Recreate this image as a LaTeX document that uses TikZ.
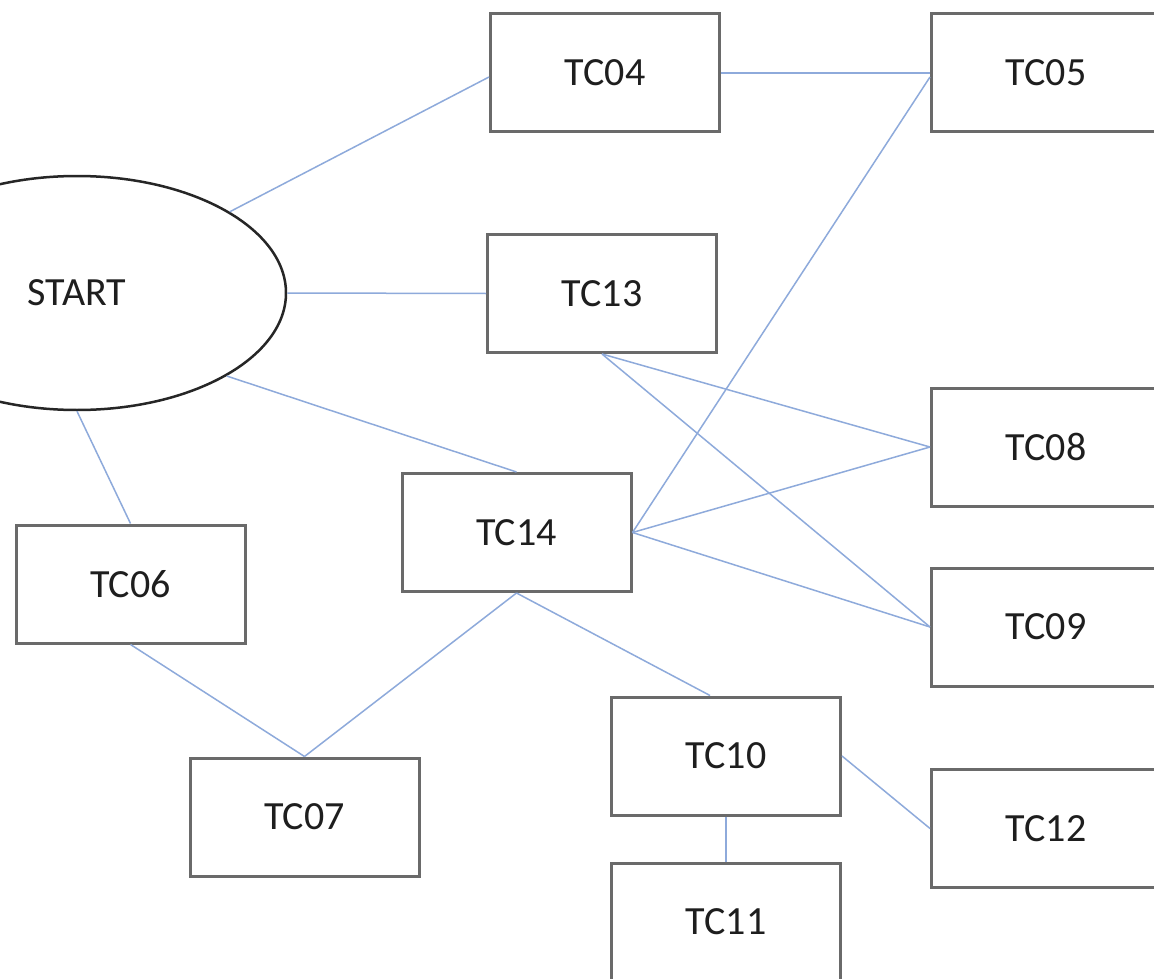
\documentclass[tikz,border=0pt]{standalone}
\usepackage{fontspec}
\setmainfont{Carlito}
\usetikzlibrary{shapes.geometric,calc}
\definecolor{edgeblue}{HTML}{8EAADB}
\definecolor{boxgray}{HTML}{6A6A6A}
\definecolor{txt}{HTML}{1E1E1E}
\begin{document}
\begin{tikzpicture}[x=1pt,y=-1pt,
  tcbox/.style={draw=boxgray,line width=3pt,minimum width=229pt,minimum height=118pt,inner sep=0pt,
    font=\fontsize{40}{48}\selectfont,text=txt},
  startell/.style={ellipse,draw=black!85,line width=2.5pt,minimum width=418pt,minimum height=234pt,inner sep=0pt,
    font=\fontsize{40}{48}\selectfont,text=txt},
  conn/.style={draw=edgeblue,line width=1.5pt}]
\useasboundingbox (0,0) rectangle (1154,979);
\clip (0,0) rectangle (1154,979);
\fill[white] (0,0) rectangle (1154,979);
\node[startell] (start) at (77,293) {START};
\node[tcbox] (tc04) at (605,73) {TC04};
\node[tcbox] (tc05) at (1046,73) {TC05};
\node[tcbox] (tc13) at (602,293.5) {TC13};
\node[tcbox] (tc08) at (1046,447) {TC08};
\node[tcbox] (tc14) at (516.5,532.5) {TC14};
\node[tcbox] (tc06) at (130.5,584) {TC06};
\node[tcbox] (tc09) at (1046,627) {TC09};
\node[tcbox] (tc10) at (726,756) {TC10};
\node[tcbox] (tc07) at (304.5,817) {TC07};
\node[tcbox] (tc12) at (1046,828.5) {TC12};
\node[tcbox] (tc11) at (726,922) {TC11};
\draw[conn] (start.28) -- ([yshift=-4pt]tc04.west);
\draw[conn] (tc04.east) -- (tc05.west);
\draw[conn] (start.east) -- (tc13.west);
\draw[conn] (start.-29) -- (tc14.north);
\draw[conn] (start.south) -- (tc06.north);
\draw[conn] (tc06.south) -- (tc07.north);
\draw[conn] (tc14.south) -- (tc07.north);
\draw[conn] (tc14.east) -- ([yshift=-4pt]tc05.west);
\draw[conn] (tc14.east) -- (tc08.west);
\draw[conn] (tc14.east) -- (tc09.west);
\draw[conn] (tc13.south) -- (tc08.west);
\draw[conn] (tc13.south) -- (tc09.west);
\draw[conn] (tc14.south) -- ([xshift=-16pt]tc10.north);
\draw[conn] (tc10.south) -- (tc11.north);
\draw[conn] (tc10.east) -- (tc12.west);
\end{tikzpicture}
\end{document}
